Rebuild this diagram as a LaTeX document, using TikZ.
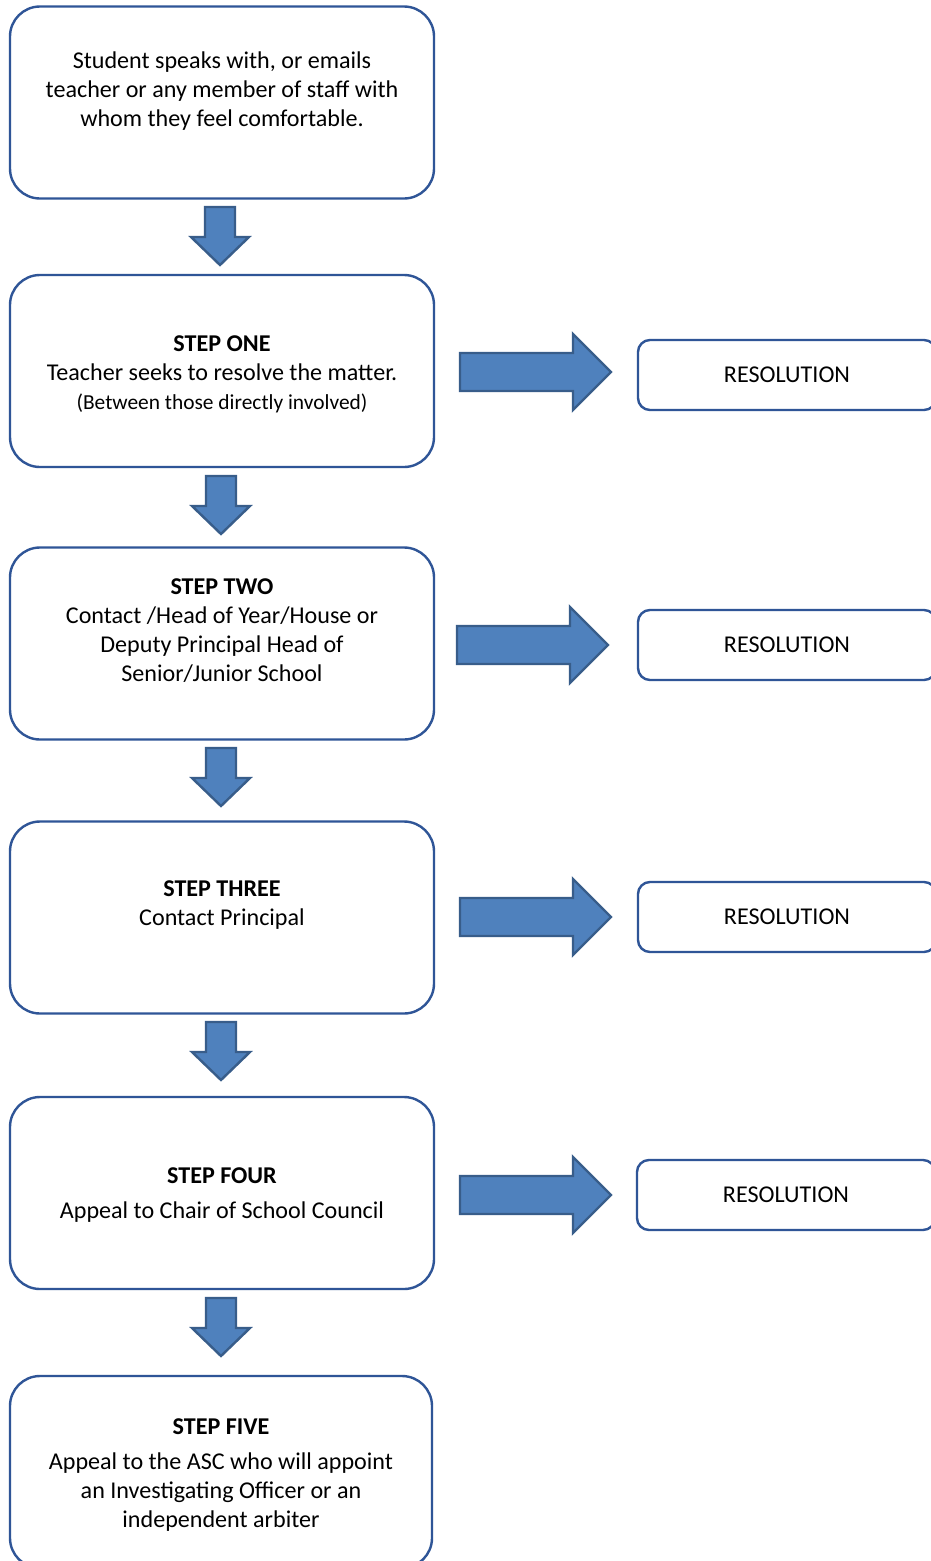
\documentclass[tikz,border=0pt]{standalone}
\usepackage{fontspec}
\setmainfont{Carlito}
\definecolor{boxline}{HTML}{2F5597}
\definecolor{arrfill}{HTML}{4F81BD}
\definecolor{arrline}{HTML}{385D8A}
\tikzset{
  stepbox/.style={draw=boxline, line width=2.4pt, rounded corners=30pt, minimum width=424pt, minimum height=192pt, inner sep=0pt},
  resbox/.style={draw=boxline, line width=2.4pt, rounded corners=12pt, minimum width=298pt, minimum height=70pt, inner sep=0pt, font=\fontsize{24.1}{29}\selectfont},
  txt/.style={align=center, inner sep=0pt, font=\fontsize{24.1}{29}\selectfont},
  blockarrow/.style={fill=arrfill, draw=arrline, line width=2.4pt, line join=miter},
}
\newcommand\mydownarrow[2]{% center x, top y
  \draw[blockarrow] (#1-15,#2) -- (#1+15,#2) -- (#1+15,#2+30) -- (#1+29,#2+30) -- (#1,#2+58) -- (#1-29,#2+30) -- (#1-15,#2+30) -- cycle;}
\newcommand\myrightarrow[2]{% left x, center y
  \draw[blockarrow] (#1,#2-19) -- (#1+113,#2-19) -- (#1+113,#2-38) -- (#1+151,#2) -- (#1+113,#2+38) -- (#1+113,#2+19) -- (#1,#2+19) -- cycle;}
\begin{document}
\begin{tikzpicture}[x=1pt,y=-1pt]
\useasboundingbox (0,0) rectangle (930,1561);
\fill[white] (0,0) rectangle (930,1561);

% main boxes
\node[stepbox] (b0) at (222,102.5) {};
\node[stepbox] (b1) at (222,371) {};
\node[stepbox] (b2) at (222,643.5) {};
\node[stepbox] (b3) at (222,917.5) {};
\node[stepbox] (b4) at (222,1193) {};
\node[stepbox, minimum width=422pt] (b5) at (221,1472) {};

% texts
\node[txt] (t0) at (222,91) {Student speaks with, or emails\\teacher or any member of staff with\\whom they feel comfortable.};
\node[txt] (t1) at (222,374.5) {\textbf{STEP ONE}\\Teacher seeks to resolve the matter.\\{\fontsize{21.4}{28}\selectfont (Between those directly involved)}};
\node[txt] (t2) at (222,631) {\textbf{STEP TWO}\\Contact /Head of Year/House or\\Deputy Principal Head of\\Senior/Junior School};
\node[txt] (t3) at (222,905.5) {\textbf{STEP THREE}\\Contact Principal};
\node[txt] (t4) at (222,1195.5) {\textbf{STEP FOUR}\\[6pt]Appeal to Chair of School Council};
\node[txt] (t5) at (221,1475) {\textbf{STEP FIVE}\\[6pt]Appeal to the ASC who will appoint\\an Investigating Officer or an\\independent arbiter};

% resolution boxes
\node[resbox] (r1) at (787,375) {RESOLUTION};
\node[resbox] (r2) at (787,645) {RESOLUTION};
\node[resbox] (r3) at (787,917) {RESOLUTION};
\node[resbox] (r4) at (786,1195) {RESOLUTION};

% down arrows
\mydownarrow{220}{207}
\mydownarrow{221}{476}
\mydownarrow{221}{748}
\mydownarrow{221}{1022}
\mydownarrow{221}{1298}

% right arrows
\myrightarrow{460}{372}
\myrightarrow{457}{645}
\myrightarrow{460}{917}
\myrightarrow{460}{1195}
\end{tikzpicture}
\end{document}
